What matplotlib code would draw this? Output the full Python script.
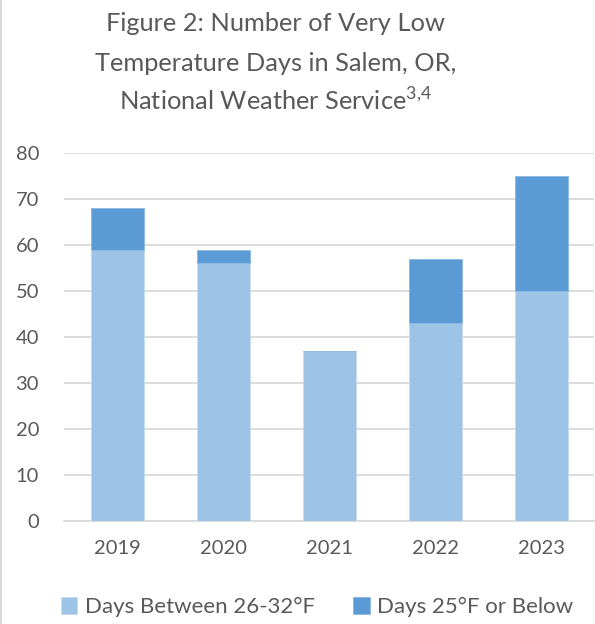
import matplotlib
matplotlib.use("Agg")
import matplotlib.pyplot as plt
from matplotlib.lines import Line2D

years = ["2019", "2020", "2021", "2022", "2023"]
days_26_32 = [59, 56, 37, 43, 50]
days_25_below = [9, 3, 0, 14, 25]
series_names = ["Days Between 26-32°F", "Days 25°F or Below"]
yticks = [0, 10, 20, 30, 40, 50, 60, 70, 80]

light = "#9DC3E6"
dark = "#5B9BD5"
txt = "#595959"
plt.rcParams['font.family'] = ['Lato', 'DejaVu Sans']

fig = plt.figure(figsize=(5.95, 6.24), dpi=100)
ax = fig.add_axes([0.1076, 0.165, 0.891, 0.5898])

x = range(len(years))
ax.bar(x, days_26_32, width=0.5, color=light, edgecolor="#C5DCF0", linewidth=0.6, zorder=3, label=series_names[0])
ax.bar(x, days_25_below, width=0.5, bottom=days_26_32, color=dark, edgecolor="#8DB8E3", linewidth=0.6, zorder=3, label=series_names[1])

ax.set_xlim(-0.5, len(years) - 0.5)
ax.set_ylim(0, 80)
ax.set_yticks(yticks)
ax.set_xticks(list(x))
ax.set_xticklabels(years)
ax.yaxis.grid(True, color="#D9D9D9", linewidth=1.3, zorder=0)
ax.set_axisbelow(True)
for s in ["top", "right", "left"]:
    ax.spines[s].set_visible(False)
ax.spines["bottom"].set_color("#D9D9D9")
ax.spines["bottom"].set_linewidth(1.3)
ax.tick_params(axis="both", length=0, labelsize=14.5, colors=txt)
ax.tick_params(axis="x", pad=14)
ax.tick_params(axis="y", pad=18)

title_lines = ["Figure 2: Number of Very Low", "Temperature Days in Salem, OR,",
               "National Weather Service$^{\\mathregular{3{,}4}}$"]
ys = [0.962, 0.899, 0.838]
for t, yy in zip(title_lines, ys):
    fig.text(0.463, yy, t, ha="center", va="center", fontsize=18.3, color=txt)

leg = fig.legend(loc="center", bbox_to_anchor=(0.533, 0.027), ncol=2, frameon=False,
                 fontsize=16, labelcolor=txt, handlelength=0.75, handleheight=0.75,
                 handletextpad=0.35, columnspacing=1.7)

fig.add_artist(Line2D([0.002, 0.002], [0, 1], color="#D9D9D9", linewidth=1.5, transform=fig.transFigure))

fig.savefig("out.png", dpi=100)
